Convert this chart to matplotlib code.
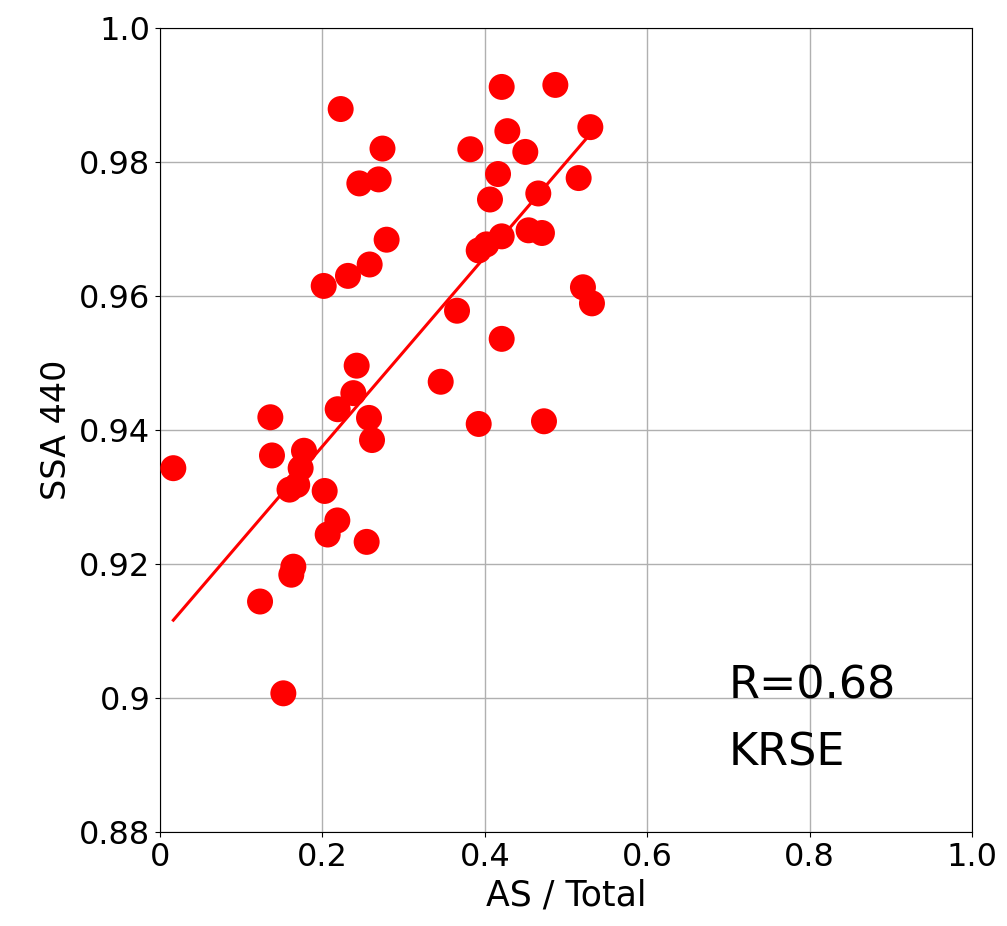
import numpy as np
import matplotlib
matplotlib.use("Agg")
import matplotlib.pyplot as plt

# AS fraction of total and single-scattering albedo at 440 nm
as_frac = [0.0164, 0.2225, 0.274, 0.2455, 0.2693, 0.2791, 0.2582, 0.2315, 0.2016,
           0.2422, 0.3457, 0.4208, 0.4869, 0.5300, 0.4278, 0.3822, 0.4499, 0.4163,
           0.5156, 0.4659, 0.4064, 0.4208, 0.4539, 0.4704, 0.3925, 0.4020, 0.5209,
           0.5320, 0.3658, 0.4208, 0.2381, 0.2188, 0.2574, 0.2611,
           0.3925, 0.4729, 0.1359, 0.1379, 0.1773, 0.1732, 0.1595, 0.1690, 0.2028,
           0.2184, 0.2065, 0.2545, 0.1642, 0.1617, 0.1232, 0.1519]
ssa440 = [0.9343, 0.9879, 0.9820, 0.9768, 0.9774, 0.9684, 0.9647, 0.9630, 0.9615,
          0.9496, 0.9472, 0.9912, 0.9915, 0.9852, 0.9846, 0.9819, 0.9815, 0.9782,
          0.9776, 0.9753, 0.9744, 0.9689, 0.9698, 0.9694, 0.9668, 0.9677, 0.9613,
          0.9589, 0.9578, 0.9536, 0.9455, 0.9431, 0.9418, 0.9385,
          0.9409, 0.9413, 0.9419, 0.9362, 0.9369, 0.9343, 0.9311, 0.9318, 0.9309,
          0.9265, 0.9244, 0.9233, 0.9196, 0.9184, 0.9144, 0.9007]

# linear regression line
fit_slope = 0.1413
fit_intercept = 0.9093

x_ticks = [0, 0.2, 0.4, 0.6, 0.8, 1.0]
x_tick_labels = ['0', '0.2', '0.4', '0.6', '0.8', '1.0']
y_ticks = [0.88, 0.90, 0.92, 0.94, 0.96, 0.98, 1.0]
y_tick_labels = ['0.88', '0.9', '0.92', '0.94', '0.96', '0.98', '1.0']
corr_label = 'R=0.68'
site_label = 'KRSE'

x = np.array(as_frac)
y = np.array(ssa440)

fig = plt.figure(figsize=(10.07, 9.26), dpi=100)
ax = fig.add_axes([0.1589, 0.1015, 0.8063, 0.8683])

ax.scatter(x, y, s=350, color='red', edgecolors='none', zorder=3)
xf = np.array([x.min(), x.max()])
ax.plot(xf, fit_slope * xf + fit_intercept, color='red', lw=2.2, zorder=2.5)

ax.set_xlim(0, 1)
ax.set_ylim(0.88, 1.0)
ax.set_xticks(x_ticks)
ax.set_xticklabels(x_tick_labels)
ax.set_yticks(y_ticks)
ax.set_yticklabels(y_tick_labels)
ax.tick_params(labelsize=23)
ax.grid(True, color='#b0b0b0', lw=1)
ax.set_axisbelow(True)
ax.set_xlabel('AS / Total', fontsize=25)
ax.set_ylabel('SSA 440', fontsize=24)

ax.text(0.70, 0.900, corr_label, fontsize=32, va='baseline', ha='left')
ax.text(0.70, 0.890, site_label, fontsize=32, va='baseline', ha='left')

fig.savefig('out.png', dpi=100)
